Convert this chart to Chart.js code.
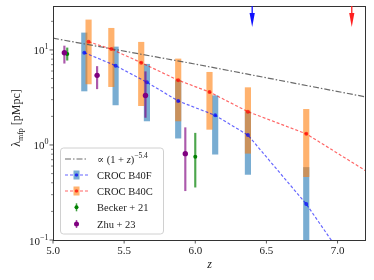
<!DOCTYPE html>
<html>
<head>
<meta charset="utf-8">
<script src="https://cdn.jsdelivr.net/npm/chart.js@4.4.0/dist/chart.umd.min.js"></script>
<style>
  html, body { margin: 0; padding: 0; background: #fff; }
  #chart { display: block; }
</style>
</head>
<body>
<canvas id="chart" width="374" height="280"></canvas>
<script>
// CROC B40F run (blue)
const fineZ = [5.22, 5.44, 5.66, 5.88, 6.14, 6.37, 6.78, 7.0];
const fineMfp = [9.37, 6.83, 4.57, 2.90, 2.05, 1.27, 0.239, 0.08];
const fineLo = [3.70, 2.64, 1.79, 1.18, 0.80, 0.49, 0.05];
const fineHi = [15.1, 10.75, 7.07, 4.8, 3.30, 2.24, 0.58];

// CROC B40C run (orange / red)
const coarseZ = [5.25, 5.41, 5.62, 5.88, 6.10, 6.37, 6.78, 7.3];
const coarseMfp = [12.2, 10.2, 7.35, 4.80, 3.61, 2.24, 1.31, 0.43];
const coarseLo = [4.39, 4.11, 2.59, 1.79, 1.46, 0.818, 0.464];
const coarseHi = [20.7, 16.9, 12.05, 8.04, 5.82, 4.01, 2.37];

// power law guide line
const powZ = [5.0, 6.0, 7.2];
const powMfp = [13.3, 7.1, 3.2];

// observations
const beckerZ = [5.1, 6.0];
const beckerMfp = [9.09, 0.75];
const beckerLo = [7.8, 0.36];
const beckerHi = [10.5, 1.33];

const zhuZ = [5.08, 5.31, 5.65, 5.93];
const zhuMfp = [9.33, 5.40, 3.31, 0.81];
const zhuLo = [7.25, 3.9, 1.95, 0.33];
const zhuHi = [11.0, 6.7, 5.9, 1.52];

// end of reionization markers
const arrowZ = [6.4, 7.1];
const arrowColors = ['#1010ff', '#ff2020'];

// ticks
const xTicks = [5.0, 5.5, 6.0, 6.5, 7.0];
const xTickLabels = ['5.0', '5.5', '6.0', '6.5', '7.0'];
const yMajorTicks = [0.1, 1, 10];
const yTickExp = ['\u22121', '0', '1'];
const yMinorTicks = [0.2, 0.3, 0.4, 0.5, 0.6, 0.7, 0.8, 0.9, 2, 3, 4, 5, 6, 7, 8, 9, 20];

const SERIF = '"Liberation Serif", "DejaVu Serif", serif';

const pts = (xs, ys) => xs.map((x, i) => ({ x: x, y: ys[i] }));
const bars = (xs, lo, hi) => lo.map((l, i) => ({ x: xs[i], y: [l, hi[i]] }));

// draw text made of pieces (for superscripts / subscripts)
function drawRich(ctx, parts, x, y, align) {
  let total = 0;
  parts.forEach(p => { ctx.font = p.font; total += ctx.measureText(p.t).width; });
  let cx = align === 'right' ? x - total : align === 'center' ? x - total / 2 : x;
  ctx.textAlign = 'left';
  ctx.textBaseline = 'alphabetic';
  parts.forEach(p => {
    ctx.font = p.font;
    ctx.fillText(p.t, cx, y + (p.dy || 0));
    cx += ctx.measureText(p.t).width;
  });
}

const axesPlugin = {
  id: 'axesPlugin',
  afterDraw(chart) {
    const { ctx, chartArea: a, scales: { x, y } } = chart;
    ctx.save();

    // frame
    ctx.strokeStyle = '#333';
    ctx.lineWidth = 1;
    ctx.strokeRect(a.left + 0.5, a.top + 0.5, a.right - a.left - 1, a.bottom - a.top);

    ctx.fillStyle = '#222';
    ctx.strokeStyle = '#333';

    // x ticks
    xTicks.forEach((t, i) => {
      const px = x.getPixelForValue(t);
      ctx.lineWidth = 0.8;
      ctx.beginPath();
      ctx.moveTo(px, a.bottom);
      ctx.lineTo(px, a.bottom + 3.5);
      ctx.stroke();
      ctx.font = '11px ' + SERIF;
      ctx.textAlign = 'center';
      ctx.textBaseline = 'alphabetic';
      ctx.fillText(xTickLabels[i], px, a.bottom + 14);
    });

    // y ticks
    yMajorTicks.forEach((t, i) => {
      const py = y.getPixelForValue(t);
      ctx.lineWidth = 0.8;
      ctx.beginPath();
      ctx.moveTo(a.left - 3.5, py);
      ctx.lineTo(a.left, py);
      ctx.stroke();
      drawRich(ctx, [
        { t: '10', font: '11px ' + SERIF },
        { t: yTickExp[i], font: '8px ' + SERIF, dy: -5 }
      ], a.left - 4.5, py + 4.5, 'right');
    });
    yMinorTicks.forEach(t => {
      const py = y.getPixelForValue(t);
      ctx.lineWidth = 0.6;
      ctx.beginPath();
      ctx.moveTo(a.left - 2, py);
      ctx.lineTo(a.left, py);
      ctx.stroke();
    });

    // axis titles
    ctx.font = 'italic 12px ' + SERIF;
    ctx.textAlign = 'center';
    ctx.fillText('z', (a.left + a.right) / 2, 268);

    ctx.save();
    ctx.translate(20, 118);
    ctx.rotate(-Math.PI / 2);
    drawRich(ctx, [
      { t: '\u03bb', font: '12px ' + SERIF },
      { t: 'mfp', font: '8px ' + SERIF, dy: 3 },
      { t: ' [pMpc]', font: '12px ' + SERIF }
    ], 0, 0, 'center');
    ctx.restore();

    // arrows at the top
    arrowZ.forEach((z, i) => {
      const px = x.getPixelForValue(z);
      ctx.fillStyle = arrowColors[i];
      ctx.strokeStyle = arrowColors[i];
      ctx.lineWidth = 1.3;
      ctx.beginPath();
      ctx.moveTo(px, a.top);
      ctx.lineTo(px, a.top + 8);
      ctx.stroke();
      ctx.beginPath();
      ctx.moveTo(px - 2.6, a.top + 7);
      ctx.lineTo(px + 2.6, a.top + 7);
      ctx.lineTo(px, a.top + 21);
      ctx.closePath();
      ctx.fill();
    });

    // legend
    const lx = 60.5, ly = 148, lw = 103, lh = 86;
    ctx.fillStyle = 'rgba(255,255,255,0.85)';
    ctx.strokeStyle = '#d0d0d0';
    ctx.lineWidth = 1;
    ctx.beginPath();
    ctx.roundRect(lx, ly, lw, lh, 3);
    ctx.fill();
    ctx.stroke();

    const rows = [159, 175, 191, 207.3, 224];
    const hx0 = 65, hx1 = 88, hc = 76.5, tx = 97;

    // power law row
    ctx.strokeStyle = 'rgba(90,90,90,0.9)';
    ctx.lineWidth = 1.2;
    ctx.setLineDash([6, 2, 1.5, 2]);
    ctx.beginPath();
    ctx.moveTo(hx0, rows[0]); ctx.lineTo(hx1, rows[0]); ctx.stroke();
    ctx.setLineDash([]);

    // CROC rows
    [[rows[1], 'rgba(31,119,180,0.6)', 'rgba(0,0,255,0.6)'],
     [rows[2], 'rgba(255,127,14,0.6)', 'rgba(255,0,0,0.6)']].forEach(r => {
      ctx.fillStyle = r[1];
      ctx.fillRect(hc - 3, r[0] - 4.5, 6, 9);
      ctx.strokeStyle = r[2];
      ctx.lineWidth = 1.2;
      ctx.setLineDash([3, 2]);
      ctx.beginPath();
      ctx.moveTo(hx0, r[0]); ctx.lineTo(hx1, r[0]); ctx.stroke();
      ctx.setLineDash([]);
      ctx.fillStyle = r[2];
      ctx.beginPath();
      ctx.arc(hc, r[0], 1.8, 0, Math.PI * 2);
      ctx.fill();
    });

    // observation rows
    [[rows[3], 'rgba(0,128,0,0.75)', '#008000', 2],
     [rows[4], 'rgba(128,0,128,0.7)', '#800080', 2.5]].forEach(r => {
      ctx.strokeStyle = r[1];
      ctx.lineWidth = 1.5;
      ctx.beginPath();
      ctx.moveTo(hc, r[0] - 4); ctx.lineTo(hc, r[0] + 4); ctx.stroke();
      ctx.fillStyle = r[2];
      ctx.beginPath();
      ctx.arc(hc, r[0], r[3], 0, Math.PI * 2);
      ctx.fill();
    });

    ctx.fillStyle = '#222';
    const lf = '10.5px ' + SERIF;
    drawRich(ctx, [
      { t: '\u221d (1 + ', font: lf },
      { t: 'z', font: 'italic ' + lf },
      { t: ')', font: lf },
      { t: '\u22125.4', font: '7.5px ' + SERIF, dy: -4.5 }
    ], tx, rows[0] + 3.5, 'left');
    ctx.font = lf;
    ctx.textAlign = 'left';
    ctx.fillText('CROC B40F', tx, rows[1] + 3.5);
    ctx.fillText('CROC B40C', tx, rows[2] + 3.5);
    ctx.fillText('Becker + 21', tx, rows[3] + 3.5);
    ctx.fillText('Zhu + 23', tx, rows[4] + 3.5);

    ctx.restore();
  }
};

const smallPt = n => (c => c.dataIndex < n ? 2 : 0);

new Chart(document.getElementById('chart'), {
  type: 'scatter',
  data: {
    datasets: [
      {
        type: 'bar', label: 'B40F range', data: bars(fineZ, fineLo, fineHi),
        backgroundColor: 'rgba(31,119,180,0.6)', barThickness: 5.5, grouped: false, order: 10
      },
      {
        type: 'bar', label: 'B40C range', data: bars(coarseZ, coarseLo, coarseHi),
        backgroundColor: 'rgba(255,127,14,0.6)', barThickness: 5.5, grouped: false, order: 9
      },
      {
        type: 'line', label: 'power law', data: pts(powZ, powMfp), showLine: true,
        borderColor: 'rgba(90,90,90,0.9)', borderWidth: 1.2, borderDash: [6, 2, 1.5, 2],
        pointRadius: 0, order: 8
      },
      {
        type: 'line', label: 'CROC B40F', data: pts(fineZ, fineMfp), showLine: true,
        borderColor: 'rgba(0,0,255,0.6)', borderWidth: 1.2, borderDash: [3, 2],
        pointRadius: smallPt(7), pointBackgroundColor: 'rgba(0,0,255,0.7)', pointBorderWidth: 0,
        order: 7
      },
      {
        type: 'line', label: 'CROC B40C', data: pts(coarseZ, coarseMfp), showLine: true,
        borderColor: 'rgba(255,0,0,0.6)', borderWidth: 1.2, borderDash: [3, 2],
        pointRadius: smallPt(7), pointBackgroundColor: 'rgba(255,0,0,0.7)', pointBorderWidth: 0,
        order: 6
      },
      {
        type: 'bar', label: 'Becker err', data: bars(beckerZ, beckerLo, beckerHi),
        backgroundColor: 'rgba(0,128,0,0.7)', barThickness: 1.5, grouped: false, order: 5
      },
      {
        type: 'scatter', label: 'Becker + 21', data: pts(beckerZ, beckerMfp),
        pointRadius: 2, pointBackgroundColor: '#008000', pointBorderWidth: 0, order: 4
      },
      {
        type: 'bar', label: 'Zhu err', data: bars(zhuZ, zhuLo, zhuHi),
        backgroundColor: 'rgba(128,0,128,0.65)', barThickness: 1.5, grouped: false, order: 3
      },
      {
        type: 'scatter', label: 'Zhu + 23', data: pts(zhuZ, zhuMfp),
        pointRadius: 2.7, pointBackgroundColor: '#800080', pointBorderWidth: 0, order: 2
      }
    ]
  },
  options: {
    responsive: false,
    animation: false,
    layout: { padding: { left: 53, right: 8, top: 6, bottom: 40 } },
    scales: {
      x: { type: 'linear', min: 5.0, max: 7.2, offset: false, display: false },
      y: { type: 'logarithmic', min: 0.1, max: 29, display: false }
    },
    plugins: {
      legend: { display: false },
      tooltip: { enabled: false }
    }
  },
  plugins: [axesPlugin]
});
</script>
</body>
</html>
